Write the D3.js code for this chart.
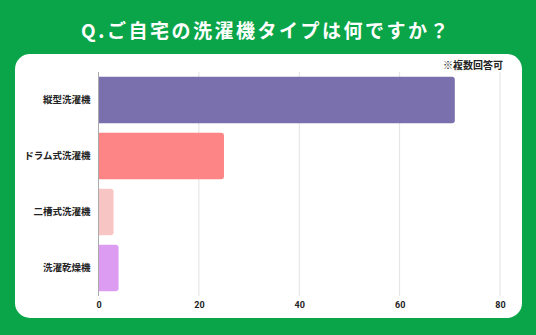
<!DOCTYPE html>
<html><head><meta charset="utf-8">
<script src="https://cdn.jsdelivr.net/npm/d3@7"></script>
<style>body{margin:0;background:#0aa548;}svg{display:block;font-family:"Noto Sans CJK JP","Noto Sans",sans-serif;}</style>
</head><body>
<svg id="c" width="536" height="335"></svg>
<script>
const title = "Q.ご自宅の洗濯機タイプは何ですか？";
const note = "※複数回答可";
const categories = ["縦型洗濯機","ドラム式洗濯機","二槽式洗濯機","洗濯乾燥機"];
const values = [71, 25, 3, 4];
const colors = ["#7b70ae","#fe8585","#f8c5c5","#dc9cf2"];
const ticks = [0,20,40,60,80];

const svg = d3.select("#c");
svg.append("rect").attr("width",536).attr("height",335).attr("fill","#0aa548");
svg.append("rect").attr("x",15).attr("y",54).attr("width",507).attr("height",264).attr("rx",15).attr("fill","#fff");
svg.append("text").attr("x",266).attr("y",38).attr("text-anchor","middle").attr("fill","#fff")
  .attr("font-size",19).attr("font-weight","bold").attr("letter-spacing",2.5).text(title);
svg.append("text").attr("x",503).attr("y",69).attr("text-anchor","end").attr("fill","#222")
  .attr("font-size",10).attr("font-weight","bold").text(note);

const x = d3.scaleLinear().domain([0,80]).range([98.5,500]);
const y = d3.scaleBand().domain(categories).range([72,296]).paddingInner(0.17).paddingOuter(0.085);

// gridlines
svg.append("g").selectAll("line").data(ticks.filter(t=>t>0)).join("line")
  .attr("x1",d=>x(d)).attr("x2",d=>x(d)).attr("y1",72).attr("y2",296)
  .attr("stroke","#e2e2e2").attr("stroke-width",1);

// bars with right rounded corners
const r = 3;
svg.append("g").selectAll("path").data(categories).join("path")
  .attr("d",(c,i)=>{
    const x0=x(0), x1=x(values[i]), y0=y(c), h=y.bandwidth();
    return `M${x0},${y0}H${x1-r}Q${x1},${y0} ${x1},${y0+r}V${y0+h-r}Q${x1},${y0+h} ${x1-r},${y0+h}H${x0}Z`;
  })
  .attr("fill",(c,i)=>colors[i]);

// zero axis line
svg.append("line").attr("x1",x(0)).attr("x2",x(0)).attr("y1",72).attr("y2",296)
  .attr("stroke","#aaa").attr("stroke-width",1);

// x axis labels
const xa = svg.append("g").attr("transform","translate(0,296)")
  .call(d3.axisBottom(x).tickValues(ticks).tickSize(0).tickPadding(6).tickFormat(d3.format("d")));
xa.select(".domain").remove();
xa.selectAll("text").attr("font-size",9).attr("font-weight","bold").attr("fill","#222")
  .attr("font-family","Roboto,'Noto Sans',sans-serif");

// y axis labels
const ya = svg.append("g").attr("transform",`translate(${x(0)},0)`)
  .call(d3.axisLeft(y).tickSize(0).tickPadding(8));
ya.select(".domain").remove();
ya.selectAll("text").attr("font-size",9.5).attr("font-weight","bold").attr("fill","#222")
  .attr("font-family","'Noto Sans CJK JP',sans-serif");
</script>
</body></html>
